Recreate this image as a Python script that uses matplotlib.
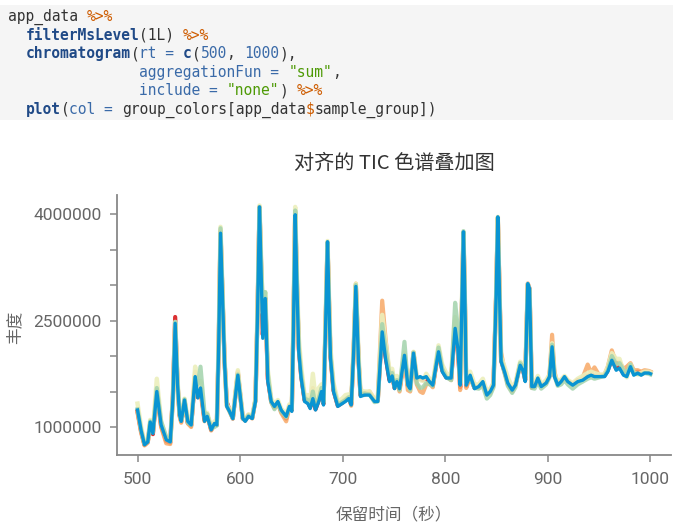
import numpy as np
import matplotlib
matplotlib.use("Agg")
import matplotlib.pyplot as plt
from matplotlib.patches import Rectangle
from matplotlib.ticker import FixedLocator, FuncFormatter

# retention times (s) shared by all samples
rt = [500.0, 503.5, 506.8, 510.0, 512.4, 515.0, 518.8, 523.0, 528.0, 531.9,
      534.5, 536.7, 539.0, 541.0, 542.6, 545.8, 549.0, 552.3, 556.2, 558.8,
      561.4, 565.3, 567.9, 571.8, 575.0, 577.3, 579.2, 580.9, 584.8, 587.0,
      589.7, 592.9, 597.8, 602.6, 605.0, 608.2, 611.8, 615.0, 617.0, 618.9,
      620.5, 622.1, 624.5, 627.0, 630.3, 633.5, 636.8, 640.0, 644.9, 648.1,
      650.4, 652.0, 653.7, 655.5, 657.2, 659.5, 662.8, 666.0, 668.3, 670.9,
      673.5, 676.7, 679.3, 681.3, 683.3, 685.2, 686.7, 688.1, 691.0, 695.2,
      699.5, 702.7, 705.9, 708.3, 710.8, 712.8, 714.0, 715.4, 717.3, 721.2,
      726.1, 731.0, 734.2, 738.5, 741.7, 745.6, 748.2, 750.5, 752.8, 755.4,
      760.2, 763.5, 765.8, 769.0, 772.2, 775.5, 778.1, 781.4, 784.6, 787.8,
      793.4, 797.0, 800.9, 805.7, 809.6, 812.2, 814.5, 816.3, 817.7, 819.0,
      820.4, 824.2, 828.5, 832.6, 836.6, 840.5, 843.8, 847.0, 849.5, 851.2,
      852.8, 854.4, 857.7, 860.9, 865.2, 868.4, 873.0, 875.6, 877.9, 880.4,
      882.1, 884.3, 887.0, 890.2, 893.5, 898.3, 901.6, 904.1, 906.4, 909.6,
      912.9, 916.2, 919.4, 924.2, 929.1, 934.0, 938.8, 942.1, 945.4, 950.3,
      955.2, 958.4, 962.3, 966.6, 969.8, 973.7, 976.9, 980.5, 983.7, 987.6,
      990.9, 994.2, 998.4, 1000.0]

# summed intensities, in millions
tic_red = [1.22, 0.94, 0.75, 0.79, 1.06, 0.90, 1.52, 1.02, 0.80, 0.78,
           1.45, 2.55, 1.62, 1.17, 1.08, 1.38, 1.06, 1.02, 1.72, 1.42,
           1.55, 1.10, 1.18, 0.96, 1.05, 1.03, 2.20, 3.75, 1.95, 1.35,
           1.24, 1.12, 1.76, 1.12, 1.10, 1.17, 1.13, 1.38, 2.62, 4.10,
           3.25, 2.30, 2.82, 1.68, 1.36, 1.28, 1.35, 1.22, 1.12, 1.30,
           1.24, 2.45, 4.02, 2.95, 2.10, 1.72, 1.38, 1.35, 1.28, 1.42,
           1.25, 1.38, 1.52, 1.33, 2.42, 3.60, 2.72, 2.00, 1.52, 1.30,
           1.34, 1.38, 1.40, 1.32, 2.12, 3.00, 2.52, 1.95, 1.45, 1.48,
           1.48, 1.38, 1.38, 2.40, 2.00, 1.66, 1.74, 1.55, 1.66, 1.53,
           2.02, 1.58, 1.56, 2.05, 1.68, 1.68, 1.66, 1.70, 1.62, 1.58,
           2.08, 1.80, 1.70, 1.68, 2.40, 2.12, 1.56, 2.78, 3.73, 2.88,
           1.58, 1.72, 1.55, 1.57, 1.63, 1.46, 1.50, 1.62, 2.82, 3.95,
           2.92, 1.94, 1.78, 1.62, 1.52, 1.60, 1.88, 1.82, 1.66, 3.02,
           2.95, 1.56, 1.58, 1.68, 1.58, 1.63, 1.72, 2.15, 1.73, 1.62,
           1.65, 1.70, 1.65, 1.60, 1.66, 1.68, 1.72, 1.74, 1.72, 1.72,
           1.72, 1.80, 1.96, 1.82, 1.85, 1.75, 1.73, 1.86, 1.76, 1.78,
           1.76, 1.78, 1.78, 1.77]
tic_orange = [1.20, 0.92, 0.74, 0.78, 1.05, 0.92, 1.48, 1.00, 0.77, 0.76,
              1.38, 2.45, 1.58, 1.15, 1.06, 1.36, 1.05, 1.00, 1.78, 1.45,
              1.50, 1.08, 1.18, 0.95, 1.04, 1.03, 2.25, 3.78, 1.95, 1.30,
              1.22, 1.12, 1.78, 1.12, 1.09, 1.16, 1.12, 1.40, 2.65, 4.08,
              3.30, 2.40, 2.80, 1.72, 1.35, 1.27, 1.34, 1.20, 1.08, 1.28,
              1.25, 2.50, 4.05, 3.00, 2.15, 1.75, 1.40, 1.40, 1.30, 1.55,
              1.28, 1.42, 1.55, 1.35, 2.45, 3.58, 2.75, 2.02, 1.55, 1.32,
              1.36, 1.40, 1.42, 1.30, 2.15, 3.02, 2.55, 1.98, 1.48, 1.45,
              1.50, 1.38, 1.40, 2.78, 2.25, 1.72, 1.78, 1.56, 1.66, 1.50,
              1.98, 1.52, 1.50, 1.98, 1.60, 1.50, 1.48, 1.60, 1.62, 1.56,
              2.10, 1.82, 1.72, 1.66, 2.50, 2.20, 1.52, 2.75, 3.72, 2.85,
              1.55, 1.70, 1.55, 1.56, 1.60, 1.46, 1.48, 1.58, 2.85, 3.94,
              2.95, 2.05, 1.80, 1.60, 1.50, 1.60, 1.90, 1.85, 1.68, 3.00,
              2.92, 1.55, 1.58, 1.66, 1.58, 1.62, 1.74, 2.30, 1.78, 1.60,
              1.64, 1.70, 1.64, 1.60, 1.64, 1.70, 1.88, 1.76, 1.84, 1.72,
              1.74, 1.85, 2.08, 1.90, 1.92, 1.82, 1.85, 1.90, 1.80, 1.80,
              1.78, 1.80, 1.79, 1.78]
tic_yellow = [1.33, 1.00, 0.78, 0.81, 1.10, 0.95, 1.68, 1.08, 0.84, 0.80,
              1.42, 2.48, 1.65, 1.20, 1.10, 1.40, 1.10, 1.05, 1.85, 1.55,
              1.65, 1.15, 1.20, 1.00, 1.08, 1.06, 2.30, 3.82, 1.98, 1.32,
              1.25, 1.15, 1.80, 1.15, 1.12, 1.18, 1.15, 1.40, 2.68, 4.12,
              3.35, 2.60, 2.90, 1.80, 1.40, 1.32, 1.38, 1.26, 1.18, 1.32,
              1.28, 2.55, 4.10, 3.05, 2.25, 1.85, 1.45, 1.45, 1.35, 1.75,
              1.40, 1.55, 1.60, 1.38, 2.48, 3.62, 2.80, 2.10, 1.62, 1.36,
              1.40, 1.45, 1.46, 1.36, 2.18, 3.02, 2.58, 2.02, 1.52, 1.50,
              1.50, 1.40, 1.40, 2.58, 2.20, 1.80, 1.82, 1.62, 1.72, 1.58,
              2.05, 1.62, 1.56, 2.06, 1.72, 1.66, 1.65, 1.75, 1.68, 1.62,
              2.15, 1.88, 1.76, 1.72, 2.55, 2.30, 1.62, 2.80, 3.74, 2.90,
              1.62, 1.78, 1.60, 1.60, 1.68, 1.50, 1.54, 1.62, 2.82, 3.96,
              2.92, 1.98, 1.85, 1.70, 1.56, 1.62, 1.92, 1.88, 1.72, 3.02,
              2.94, 1.62, 1.62, 1.72, 1.60, 1.66, 1.74, 2.18, 1.74, 1.64,
              1.67, 1.72, 1.66, 1.62, 1.68, 1.72, 1.76, 1.78, 1.76, 1.74,
              1.74, 1.84, 2.04, 1.96, 1.96, 1.78, 1.70, 1.88, 1.76, 1.74,
              1.76, 1.78, 1.78, 1.77]
tic_green = [1.25, 0.96, 0.76, 0.80, 1.08, 0.93, 1.55, 1.08, 0.86, 0.80,
             1.40, 2.48, 1.62, 1.18, 1.09, 1.39, 1.06, 1.03, 1.70, 1.60,
             1.85, 1.20, 1.18, 0.98, 1.00, 1.02, 2.25, 3.80, 1.93, 1.30,
             1.22, 1.12, 1.74, 1.12, 1.10, 1.16, 1.13, 1.38, 2.62, 4.10,
             3.30, 2.75, 2.90, 1.75, 1.35, 1.25, 1.34, 1.22, 1.14, 1.28,
             1.25, 2.48, 4.05, 2.98, 2.12, 1.75, 1.40, 1.38, 1.30, 1.50,
             1.30, 1.40, 1.55, 1.34, 2.44, 3.60, 2.75, 2.02, 1.55, 1.31,
             1.35, 1.38, 1.42, 1.33, 2.12, 3.00, 2.55, 1.95, 1.46, 1.47,
             1.46, 1.35, 1.36, 2.45, 2.10, 1.72, 1.76, 1.56, 1.66, 1.52,
             2.20, 1.60, 1.52, 2.05, 1.62, 1.55, 1.56, 1.62, 1.60, 1.58,
             2.12, 1.82, 1.70, 1.66, 2.75, 2.40, 1.62, 2.82, 3.76, 2.92,
             1.62, 1.70, 1.55, 1.54, 1.58, 1.40, 1.45, 1.56, 2.80, 3.95,
             2.90, 1.95, 1.76, 1.58, 1.48, 1.56, 1.90, 1.84, 1.66, 3.01,
             2.94, 1.55, 1.54, 1.64, 1.54, 1.60, 1.70, 2.16, 1.72, 1.58,
             1.60, 1.66, 1.60, 1.54, 1.60, 1.64, 1.68, 1.70, 1.68, 1.70,
             1.72, 1.80, 2.00, 1.88, 1.90, 1.80, 1.76, 1.88, 1.76, 1.75,
             1.74, 1.76, 1.75, 1.74]
tic_blue = [1.24, 0.95, 0.75, 0.79, 1.07, 0.91, 1.50, 1.03, 0.82, 0.79,
            1.40, 2.46, 1.60, 1.17, 1.08, 1.38, 1.08, 1.03, 1.71, 1.41,
            1.55, 1.08, 1.15, 0.96, 1.05, 1.03, 2.20, 3.73, 1.92, 1.29,
            1.22, 1.12, 1.73, 1.12, 1.08, 1.15, 1.12, 1.36, 2.60, 4.10,
            3.20, 2.25, 2.81, 1.64, 1.36, 1.29, 1.36, 1.24, 1.15, 1.29,
            1.22, 2.40, 3.99, 2.90, 2.06, 1.69, 1.36, 1.33, 1.26, 1.40,
            1.24, 1.36, 1.50, 1.31, 2.40, 3.61, 2.70, 1.97, 1.50, 1.29,
            1.33, 1.36, 1.40, 1.31, 2.10, 2.98, 2.50, 1.92, 1.43, 1.45,
            1.45, 1.36, 1.36, 2.34, 1.97, 1.64, 1.72, 1.54, 1.64, 1.54,
            2.01, 1.59, 1.54, 2.04, 1.69, 1.71, 1.69, 1.71, 1.64, 1.59,
            2.06, 1.78, 1.69, 1.69, 2.39, 2.11, 1.59, 2.80, 3.75, 2.90,
            1.59, 1.73, 1.54, 1.57, 1.64, 1.45, 1.50, 1.59, 2.80, 3.96,
            2.90, 1.92, 1.78, 1.62, 1.52, 1.59, 1.87, 1.80, 1.64, 3.02,
            2.95, 1.57, 1.57, 1.69, 1.57, 1.62, 1.71, 2.13, 1.71, 1.59,
            1.64, 1.71, 1.64, 1.59, 1.64, 1.66, 1.71, 1.73, 1.71, 1.71,
            1.71, 1.78, 1.94, 1.80, 1.83, 1.73, 1.71, 1.85, 1.73, 1.76,
            1.73, 1.76, 1.76, 1.75]

samples = [tic_red, tic_orange, tic_yellow, tic_green, tic_blue]
sample_colors = ["#d7191c", "#f7a866", "#ecefbc", "#a3d3ac", "#0994d2"]
sample_alpha = [0.9, 0.85, 0.9, 0.85, 1.0]
sample_lw = [3.0, 3.0, 3.2, 3.0, 2.4]

y_ticks = [1000000, 1500000, 2000000, 2500000, 3000000, 3500000, 4000000]
y_labelled = [1000000, 2500000, 4000000]
x_ticks = [500, 600, 700, 800, 900, 1000]

title = "对齐的 TIC 色谱叠加图"
x_label = "保留时间（秒）"
y_label = "丰度"

# R code shown above the chart: (text, colour, bold)
c_txt, c_fn, c_arg, c_op, c_str = "#333333", "#204a87", "#3a6aa8", "#ce5c00", "#4e9a06"
code_lines = [
    [("app_data ", c_txt, False), ("%>%", c_op, False)],
    [("  ", c_txt, False), ("filterMsLevel", c_fn, True), ("(1L) ", c_txt, False), ("%>%", c_op, False)],
    [("  ", c_txt, False), ("chromatogram", c_fn, True), ("(", c_txt, False), ("rt = ", c_arg, False),
     ("c", c_fn, True), ("(", c_txt, False), ("500", c_arg, False), (", ", c_txt, False),
     ("1000", c_arg, False), ("),", c_txt, False)],
    [(" " * 15, c_txt, False), ("aggregationFun = ", c_arg, False), ('"sum"', c_str, False), (",", c_txt, False)],
    [(" " * 15, c_txt, False), ("include = ", c_arg, False), ('"none"', c_str, False), (") ", c_txt, False),
     ("%>%", c_op, False)],
    [("  ", c_txt, False), ("plot", c_fn, True), ("(", c_txt, False), ("col = ", c_arg, False),
     ("group_colors[app_data", c_txt, False), ("$", c_op, False), ("sample_group])", c_txt, False)],
]

W, H = 673, 524
fig = plt.figure(figsize=(W / 100, H / 100), dpi=100)

# code block background
fig.patches.append(Rectangle((0, 1 - 120 / H), 1, 115 / H, transform=fig.transFigure,
                             facecolor="#f5f5f5", edgecolor="none", zorder=0))
char_w = 8.76
for i, line in enumerate(code_lines):
    col = 0
    y = 1 - (16.5 + 18.6 * i) / H
    for text, color, bold in line:
        fig.text((8 + col * char_w) / W, y, text, family="DejaVu Sans Mono", fontsize=10.5,
                 color=color, fontweight="bold" if bold else "normal", va="center", ha="left")
        col += len(text)

ax = fig.add_axes([117 / W, 1 - 455 / H, (671 - 117) / W, (455 - 195) / H])
rt_arr = np.array(rt)
for vals, c, a, lw in zip(samples, sample_colors, sample_alpha, sample_lw):
    ax.plot(rt_arr, np.array(vals) * 1e6, color=c, alpha=a, lw=lw, solid_joinstyle="round")

ax.set_xlim(480, 1020)
ax.set_ylim(606000, 4268000)
ax.xaxis.set_major_locator(FixedLocator(x_ticks))
ax.yaxis.set_major_locator(FixedLocator(y_ticks))
ax.yaxis.set_major_formatter(FuncFormatter(lambda v, p: f"{int(round(v))}" if int(round(v)) in y_labelled else ""))

for s in ["top", "right"]:
    ax.spines[s].set_visible(False)
for s in ["left", "bottom"]:
    ax.spines[s].set_color("#888888")
    ax.spines[s].set_linewidth(1.3)
ax.tick_params(axis="both", length=5, width=1.1, color="#888888", labelcolor="#666666",
               labelsize=12.5, pad=6)
ax.tick_params(axis="x", pad=7)
for lab in ax.get_xticklabels() + ax.get_yticklabels():
    lab.set_family("Roboto")

cjk = ["Noto Sans CJK SC", "DejaVu Sans"]
fig.text(394 / W, 1 - 163 / H, title, family=cjk, fontsize=14.5, color="#333333", ha="center", va="center")
fig.text(394 / W, 1 - 515 / H, x_label, family=cjk, fontsize=12, color="#666666", ha="center", va="center")
fig.text(15 / W, 1 - 327 / H, y_label, family=cjk, fontsize=12, color="#666666", ha="center", va="center",
         rotation=90)

fig.savefig("out.png", dpi=100)
